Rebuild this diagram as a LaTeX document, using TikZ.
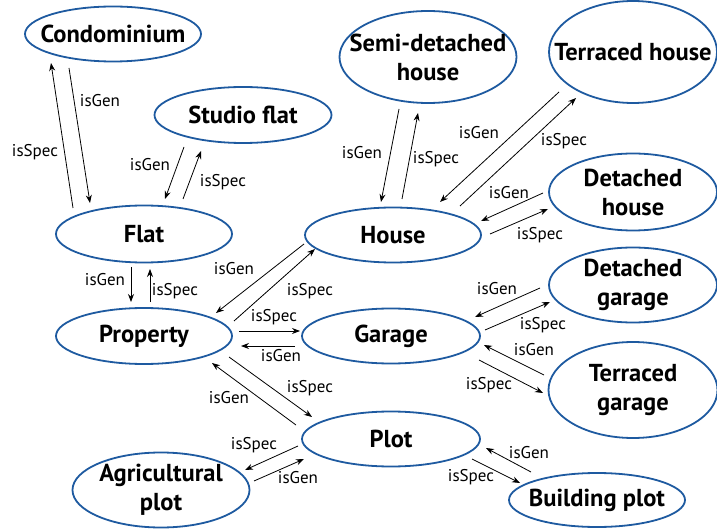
\documentclass[tikz,border=0pt]{standalone}
\usepackage{fontspec}
\setmainfont{PT Sans}
\usetikzlibrary{shapes.geometric,arrows.meta}
\definecolor{ellblue}{RGB}{30,90,160}
\tikzset{
  ent/.style={ellipse,draw=ellblue,line width=1.8pt,inner sep=0pt},
  entname/.style={align=center,inner sep=0pt,font=\fontsize{24.5}{29}\selectfont\bfseries},
  arr/.style={-{Stealth[length=8pt,width=6pt]},line width=0.8pt,black},
  lbl/.style={font=\fontsize{17}{19}\selectfont,inner sep=0pt}
}
\begin{document}
\begin{tikzpicture}[x=1pt,y=-1pt]
\useasboundingbox (0,0) rectangle (717,529);
% entities
\node[ent,minimum width=176,minimum height=55,label={[entname]center:Condominium}] (condo) at (113,34) {};
\node[ent,minimum width=177,minimum height=56,label={[entname]center:Studio flat}] (studio) at (243,115) {};
\node[ent,minimum width=176,minimum height=57,label={[entname]center:Flat}] (flat) at (144,234) {};
\node[ent,minimum width=177,minimum height=92,label={[entname]center:{Semi-detached\\house}}] (semi) at (428,57) {};
\node[ent,minimum width=168,minimum height=102,label={[entname]center:Terraced house}] (terrh) at (633,52) {};
\node[ent,minimum width=168,minimum height=77,label={[entname]center:{Detached\\house}}] (deth) at (633,192) {};
\node[ent,minimum width=176,minimum height=55,label={[entname]center:House}] (house) at (393,235) {};
\node[ent,minimum width=168,minimum height=75,label={[entname]center:{Detached\\garage}}] (detg) at (633,285) {};
\node[ent,minimum width=178,minimum height=55,label={[entname]center:Garage}] (garage) at (391,336) {};
\node[ent,minimum width=176,minimum height=56,label={[entname]center:Property}] (prop) at (144,336) {};
\node[ent,minimum width=169,minimum height=96,label={[entname]center:{Terraced\\garage}}] (terrg) at (633,390) {};
\node[ent,minimum width=178,minimum height=55,label={[entname]center:Plot}] (plot) at (391,439) {};
\node[ent,minimum width=177,minimum height=75,label={[entname]center:{Agricultural\\plot}}] (agri) at (161,490) {};
\node[ent,minimum width=176,minimum height=54,label={[entname]center:Building plot}] (build) at (597,500) {};
% connector end points
\coordinate (a1) at (73,208);  \coordinate (a2) at (51,63);
\coordinate (b1) at (69,68);   \coordinate (b2) at (90,203);
\coordinate (c1) at (184,147); \coordinate (c2) at (165,199);
\coordinate (d1) at (183,199); \coordinate (d2) at (201,151);
\coordinate (e1) at (399,109); \coordinate (e2) at (381,202);
\coordinate (f1) at (402,199); \coordinate (f2) at (418,113);
\coordinate (g1) at (559,92);  \coordinate (g2) at (440,202);
\coordinate (h1) at (460,206); \coordinate (h2) at (576,98);
\coordinate (i1) at (543,193); \coordinate (i2) at (481,221);
\coordinate (j1) at (490,234); \coordinate (j2) at (548,209);
\coordinate (k1) at (131,267); \coordinate (k2) at (131,302);
\coordinate (l1) at (150,302); \coordinate (l2) at (150,269);
\coordinate (m1) at (304,244); \coordinate (m2) at (216,313);
\coordinate (n1) at (234,321); \coordinate (n2) at (315,249);
\coordinate (o1) at (239,331); \coordinate (o2) at (300,331);
\coordinate (p1) at (295,346); \coordinate (p2) at (241,346);
\coordinate (q1) at (296,425); \coordinate (q2) at (212,363);
\coordinate (r1) at (229,357); \coordinate (r2) at (312,417);
\coordinate (s1) at (298,446); \coordinate (s2) at (245,470);
\coordinate (t1) at (254,481); \coordinate (t2) at (304,459);
\coordinate (u1) at (540,288); \coordinate (u2) at (475,317);
\coordinate (v1) at (485,330); \coordinate (v2) at (550,302);
\coordinate (w1) at (544,375); \coordinate (w2) at (484,345);
\coordinate (x1) at (479,360); \coordinate (x2) at (543,393);
\coordinate (y1) at (531,472); \coordinate (y2) at (486,448);
\coordinate (z1) at (472,459); \coordinate (z2) at (520,483);
% connectors
\foreach \p in {a,b,c,d,e,f,g,h,i,j,k,l,m,n,o,p,q,r,s,t,u,v,w,x,y,z}
  \draw[arr] (\p1) -- (\p2);
% labels
\node[lbl] (la) at (35,152) {isSpec};
\node[lbl] (lb) at (100,101) {isGen};
\node[lbl] (lc) at (150,165) {isGen};
\node[lbl] (ld) at (223,182) {isSpec};
\node[lbl] (le) at (362,153) {isGen};
\node[lbl] (lf) at (436,159) {isSpec};
\node[lbl] (lg) at (479,133) {isGen};
\node[lbl] (lh) at (564,141) {isSpec};
\node[lbl] (li) at (509,193) {isGen};
\node[lbl] (lj) at (540,235) {isSpec};
\node[lbl] (lk) at (105,280) {isGen};
\node[lbl] (ll) at (175,291) {isSpec};
\node[lbl] (lm) at (234,269) {isGen};
\node[lbl] (ln) at (310,291) {isSpec};
\node[lbl] (lo) at (274,317) {isSpec};
\node[lbl] (lp) at (281,356) {isGen};
\node[lbl] (lq) at (229,398) {isGen};
\node[lbl] (lr) at (310,388) {isSpec};
\node[lbl] (ls) at (254,445) {isSpec};
\node[lbl] (lt) at (298,478) {isGen};
\node[lbl] (lu) at (497,289) {isGen};
\node[lbl] (lv) at (543,325) {isSpec};
\node[lbl] (lw) at (534,350) {isGen};
\node[lbl] (lx) at (489,385) {isSpec};
\node[lbl] (ly) at (529,453) {isGen};
\node[lbl] (lz) at (471,477) {isSpec};
\end{tikzpicture}
\end{document}
